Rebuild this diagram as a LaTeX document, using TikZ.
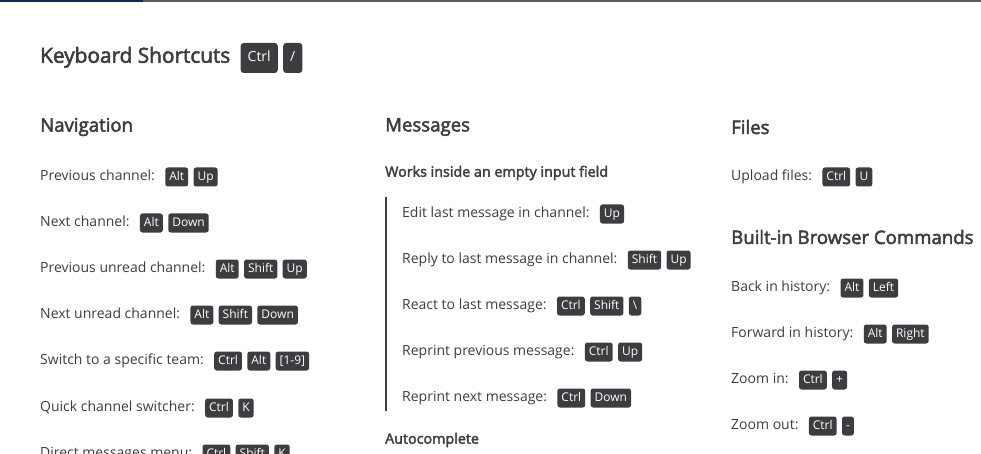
\documentclass[tikz,border=0pt]{standalone}
\usepackage{fontspec}
\setmainfont{Open Sans}
\newfontfamily\semifont[FakeBold=2.6]{Open Sans}
\usepackage{tikz}
\usetikzlibrary{positioning}
\definecolor{ink}{HTML}{3D3C40}
\definecolor{keyfill}{HTML}{3D3C40}
\definecolor{topnavy}{HTML}{14284B}
\definecolor{topgrey}{HTML}{5C5C5C}

\begin{document}
\begin{tikzpicture}[x=1pt,y=-1pt,
    every node/.style={text=ink, inner sep=0pt},
    title/.style={anchor=west, font=\fontsize{20.8}{24}\semifont, text height=14pt, text depth=4.5pt},
    heading/.style={anchor=west, font=\fontsize{18.6}{22}\semifont},
    subhead/.style={anchor=west, font=\fontsize{14.3}{17}\semifont},
    entry/.style={anchor=west, font=\fontsize{14}{17}\selectfont, text height=10pt, text depth=3pt},
    kbd/.style={fill=keyfill, text=white, rounded corners=2.5pt, minimum height=19pt, inner xsep=4pt,
        font=\fontsize{12}{14}\selectfont, text height=8.6pt, text depth=2.4pt},
    bigkbd/.style={kbd, minimum height=30pt, inner xsep=7pt, rounded corners=3pt,
        font=\fontsize{14}{17}\selectfont, text height=10pt, text depth=3pt}]
  \useasboundingbox (0,0) rectangle (981,454);
  \clip (0,0) rectangle (981,454);
  \fill[topnavy] (0,0) rectangle (143,2);
  \fill[topgrey] (143,0) rectangle (981,2);

  \node[title] (title) at (40,58) {Keyboard Shortcuts};
  \node[bigkbd, right=10pt of title] (title-1) {Ctrl};
  \node[bigkbd, right=5pt of title-1] (title-2) {/};

  \node[heading] (nav) at (40,127) {Navigation};
  \node[heading] (msg) at (385,127) {Messages};
  \node[heading] (files) at (731,127) {Files};
  \node[heading] (browser) at (731,237) {Built-in Browser Commands};
  \node[subhead] (empty) at (385,173) {Works inside an empty input field};
  \node[subhead] (auto) at (385,440) {Autocomplete};
  \fill[ink] (385,197) rectangle (387,411);

  \foreach \n/\x/\y/\txt/\keys in {
      nav1/40/177/{Previous channel:}/{Alt,Up},
      nav2/40/223/{Next channel:}/{Alt,Down},
      nav3/40/269/{Previous unread channel:}/{Alt,Shift,Up},
      nav4/40/315/{Next unread channel:}/{Alt,Shift,Down},
      nav5/40/361/{Switch to a specific team:}/{Ctrl,Alt,[1-9]},
      nav6/40/408/{Quick channel switcher:}/{Ctrl,K},
      nav7/40/454/{Direct messages menu:}/{Ctrl,Shift,K},
      msg1/402/214/{Edit last message in channel:}/{Up},
      msg2/402/260/{Reply to last message in channel:}/{Shift,Up},
      msg3/402/306/{React to last message:}/{Ctrl,Shift,\textbackslash},
      msg4/402/352/{Reprint previous message:}/{Ctrl,Up},
      msg5/402/398/{Reprint next message:}/{Ctrl,Down},
      file1/731/177/{Upload files:}/{Ctrl,U},
      web1/731/288/{Back in history:}/{Alt,Left},
      web2/731/334/{Forward in history:}/{Alt,Right},
      web3/731/380/{Zoom in:}/{Ctrl,+},
      web4/731/426/{Zoom out:}/{Ctrl,-}}{
    \node[entry] (\n-0) at (\x,\y) {\txt};
    \foreach \k [count=\i] in \keys {
      \pgfmathtruncatemacro\prev{\i-1}
      \pgfmathsetmacro\gap{\i==1 ? 10 : 5}
      \node[kbd, right=\gap pt of \n-\prev] (\n-\i) {\k};
    }
  }
\end{tikzpicture}
\end{document}
